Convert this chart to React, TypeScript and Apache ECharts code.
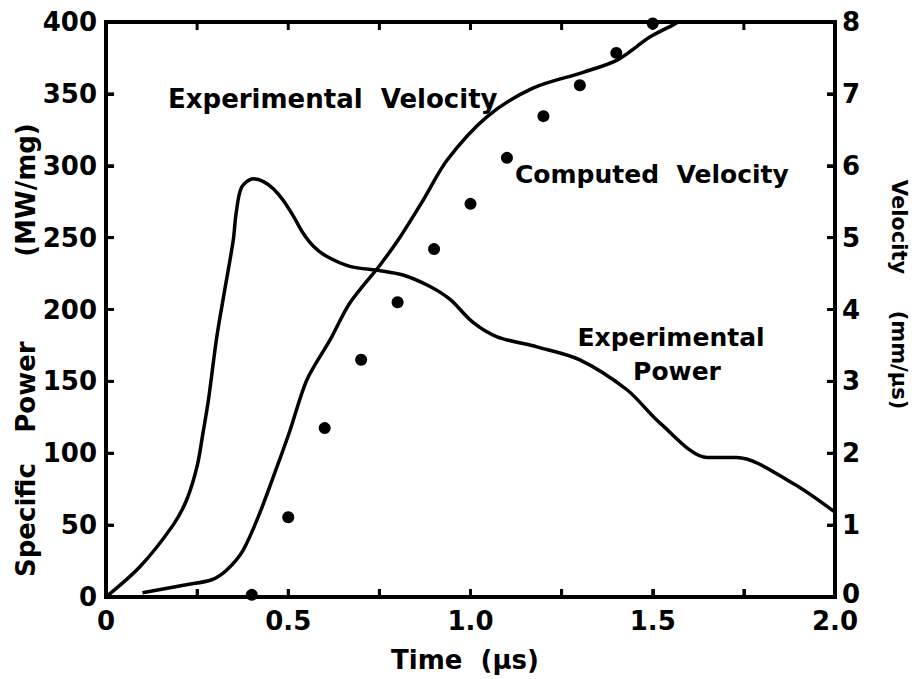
import React, { useEffect, useRef } from "react";
import * as echarts from "echarts";

// Experimental power (MW/mg) vs time (µs)
const powerTime = [0, 0.093, 0.184, 0.222, 0.25, 0.266, 0.281, 0.304, 0.326, 0.349, 0.357, 0.372, 0.404, 0.432, 0.459, 0.486, 0.514, 0.541, 0.569, 0.605, 0.669, 0.752, 0.815, 0.889, 0.944, 1.007, 1.073, 1.182, 1.3, 1.43, 1.52, 1.65, 1.73, 1.885, 2.0];
const powerValues = [0, 21, 50, 68, 91, 114, 137, 181, 214, 248, 267, 285, 291, 289, 284, 276, 265, 253, 244, 237, 230, 227, 224, 216, 207, 191, 181, 174, 165, 144, 121, 97, 97, 79, 59];

// Experimental velocity (mm/µs) vs time (µs)
const velTime = [0.1, 0.22, 0.29, 0.332, 0.376, 0.422, 0.469, 0.505, 0.551, 0.615, 0.669, 0.752, 0.807, 0.87, 0.936, 1.045, 1.171, 1.309, 1.402, 1.492, 1.556, 1.57];
const velValues = [0.06, 0.17, 0.24, 0.38, 0.65, 1.17, 1.81, 2.32, 3.02, 3.58, 4.09, 4.62, 5.01, 5.52, 6.08, 6.68, 7.08, 7.3, 7.47, 7.79, 7.96, 8.0];

// Computed velocity (mm/µs) points
const compTime = [0.4, 0.5, 0.6, 0.7, 0.8, 0.9, 1.0, 1.1, 1.2, 1.3, 1.4, 1.5];
const compValues = [0.03, 1.11, 2.35, 3.3, 4.1, 4.84, 5.47, 6.11, 6.69, 7.12, 7.57, 7.98];

// Tick values
const timeTicks = [0, 0.25, 0.5, 0.75, 1.0, 1.25, 1.5, 1.75, 2.0];
const powerTicks = [0, 50, 100, 150, 200, 250, 300, 350, 400];
const velTicks = [0, 1, 2, 3, 4, 5, 6, 7, 8];
const T_MIN = 0, T_MAX = 2, P_MIN = 0, P_MAX = 400, V_MIN = 0, V_MAX = 8;

const FONT = "DejaVu Sans";

export default function App() {
  const ref = useRef<HTMLDivElement>(null);
  useEffect(() => {
    if (!ref.current) return;
    const chart = echarts.init(ref.current, null, { renderer: "svg" });
    const lineStyle = () => ({ color: "#000", width: 4 });
    const tickStyle = () => ({ color: "#000", width: 3 });
    const labelStyle = { color: "#000", fontFamily: FONT, fontWeight: "bold" as const, fontSize: 26 };
    const xFmt = (v: number) => {
      if (Math.abs(v * 2 - Math.round(v * 2)) > 1e-6) return "";
      return v === 0 ? "0" : v.toFixed(1);
    };
    const txt = (text: string, x: number, y: number, size: number, align = "left", rotation = 0) => ({
      type: "text",
      x,
      y,
      rotation,
      silent: true,
      z: 20,
      style: {
        text,
        fill: "#000",
        fontFamily: FONT,
        fontWeight: "bold",
        fontSize: size,
        textAlign: align,
        textVerticalAlign: "middle",
      },
    });
    const TL = 8;
    const tickLine = (x1: number, y1: number, x2: number, y2: number) => ({
      type: "line",
      shape: { x1, y1, x2, y2 },
      style: { stroke: "#000", lineWidth: 3 },
    });
    chart.setOption({
      animation: false,
      backgroundColor: "#fff",
      grid: {
        left: 106,
        right: 82,
        top: 22,
        bottom: 82,
        show: true,
        borderColor: "#000",
        borderWidth: 4,
        backgroundColor: "rgba(0,0,0,0)",
      },
      xAxis: [
        {
          type: "value",
          min: T_MIN,
          max: T_MAX,
          interval: 0.25,
          position: "bottom",
          axisLine: { show: true, onZero: false, lineStyle: lineStyle() },
          axisTick: { show: true, inside: true, length: 8, lineStyle: tickStyle() },
          axisLabel: { ...labelStyle, formatter: xFmt, margin: 11 },
          splitLine: { show: false },
        },
      ],
      yAxis: [
        {
          type: "value",
          min: P_MIN,
          max: P_MAX,
          interval: 50,
          position: "left",
          axisLine: { show: true, onZero: false, lineStyle: lineStyle() },
          axisTick: { show: true, inside: true, length: 8, lineStyle: tickStyle() },
          axisLabel: { ...labelStyle, margin: 9 },
          splitLine: { show: false },
        },
        {
          type: "value",
          min: V_MIN,
          max: V_MAX,
          interval: 1,
          position: "right",
          axisLine: { show: true, onZero: false, lineStyle: lineStyle() },
          axisTick: { show: true, inside: true, length: 8, lineStyle: tickStyle() },
          axisLabel: {
            ...labelStyle,
            margin: 7,
            formatter: (v: number) => (v === 0 ? "{z|0}" : String(v)),
            rich: { z: { ...labelStyle, padding: [0, 0, 6, 0] } },
          },
          splitLine: { show: false },
        },
      ],
      series: [
        {
          name: "Frame",
          type: "line",
          yAxisIndex: 0,
          data: [[T_MIN, P_MIN], [T_MIN, P_MAX], [T_MAX, P_MAX], [T_MAX, P_MIN], [T_MIN, P_MIN]],
          clip: false,
          smooth: false,
          showSymbol: false,
          silent: true,
          z: 3,
          lineStyle: { color: "#000", width: 4, cap: "square", join: "miter" },
        },
        {
          name: "Time ticks",
          type: "custom",
          yAxisIndex: 0,
          silent: true,
          clip: false,
          z: 3,
          data: timeTicks.map((t) => [t]),
          renderItem: (params: any, api: any) => {
            const t = api.value(0);
            const b = api.coord([t, P_MIN]);
            const top = api.coord([t, P_MAX]);
            return {
              type: "group",
              children: [tickLine(b[0], b[1], b[0], b[1] - TL), tickLine(top[0], top[1], top[0], top[1] + TL)],
            };
          },
        },
        {
          name: "Power ticks",
          type: "custom",
          yAxisIndex: 0,
          silent: true,
          clip: false,
          z: 3,
          data: powerTicks.map((v) => [T_MIN, v]),
          renderItem: (params: any, api: any) => {
            const p = api.coord([api.value(0), api.value(1)]);
            return tickLine(p[0], p[1], p[0] + TL, p[1]);
          },
        },
        {
          name: "Velocity ticks",
          type: "custom",
          yAxisIndex: 1,
          silent: true,
          clip: false,
          z: 3,
          data: velTicks.map((v) => [T_MAX, v]),
          renderItem: (params: any, api: any) => {
            const p = api.coord([api.value(0), api.value(1)]);
            return tickLine(p[0], p[1], p[0] - TL, p[1]);
          },
        },
        {
          name: "Experimental Power",
          type: "line",
          yAxisIndex: 0,
          data: powerTime.map((t, i) => [t, powerValues[i]]),
          smooth: 0.3,
          showSymbol: false,
          lineStyle: { color: "#000", width: 3.5 },
        },
        {
          name: "Experimental Velocity",
          type: "line",
          yAxisIndex: 1,
          data: velTime.map((t, i) => [t, velValues[i]]),
          smooth: 0.3,
          showSymbol: false,
          lineStyle: { color: "#000", width: 3.5 },
        },
        {
          name: "Computed Velocity",
          type: "scatter",
          yAxisIndex: 1,
          data: compTime.map((t, i) => [t, compValues[i]]),
          symbol: "circle",
          symbolSize: 12,
          itemStyle: { color: "#000", opacity: 1 },
        },
      ],
      graphic: [
        txt("Experimental  Velocity", 168, 99, 26),
        txt("Computed  Velocity", 515, 174, 25),
        txt("Experimental", 671, 337, 25, "center"),
        txt("Power", 677, 371, 25, "center"),
        txt("Time  (\u03bcs)", 465, 660, 26, "center"),
        txt("Specific", 26, 520, 26, "center", Math.PI / 2),
        txt("Power", 26, 387, 26, "center", Math.PI / 2),
        txt("(MW/mg)", 26, 190, 26, "center", Math.PI / 2),
        txt("Velocity", 899, 227, 21, "center", -Math.PI / 2),
        txt("(mm/\u03bcs)", 899, 360, 21, "center", -Math.PI / 2),
      ],
    });
    return () => chart.dispose();
  }, []);
  return (
    <div
      ref={ref}
      style={{ position: "fixed", left: 0, top: 0, width: 917, height: 679, background: "#fff" }}
    />
  );
}
